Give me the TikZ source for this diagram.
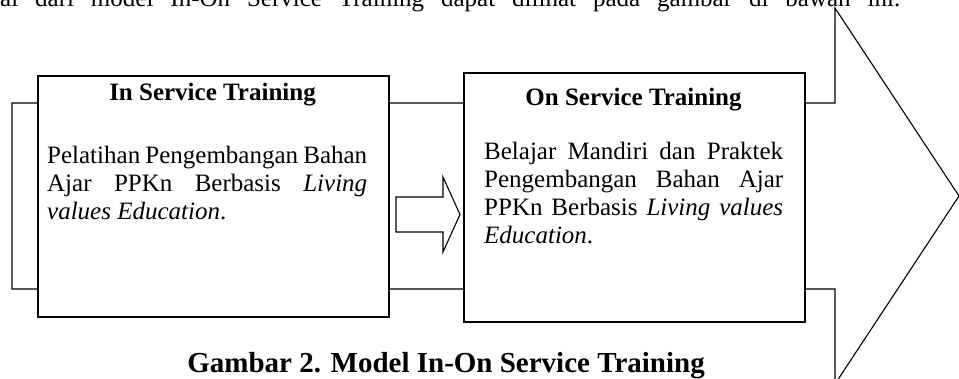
\documentclass[tikz,border=0pt]{standalone}
\usepackage{fontspec}
\setmainfont{Liberation Serif}
\usetikzlibrary{positioning}

\begin{document}
\begin{tikzpicture}[
  x=1bp, y=-1bp,
  box/.style={draw, line width=1.6bp, fill=white, inner sep=0pt, anchor=north west},
  boxtitle/.style={font=\fontsize{25bp}{28bp}\selectfont\bfseries, anchor=base, inner sep=0pt},
  boxbody/.style={font=\fontsize{25bp}{28bp}\selectfont, align=justify, anchor=north west, inner sep=0pt},
  blockarrow/.style={draw, line width=1.1bp, fill=white, line join=miter},
]

\useasboundingbox (0,0) rectangle (959,378);

% --- lead-in line (justified, cut off at the top) ---
\node[font=\fontsize{25bp}{28bp}\selectfont, anchor=base west, inner sep=0pt] (lead) at (0,6.5)
  {\makebox[900bp][s]{al dari model In-On Service Training dapat dilihat pada gambar di bawah ini.}};

% --- big arrow behind both boxes ---
\draw[blockarrow] (12,103) -- (835,103) -- (835,8) -- (959,196) -- (835,384)
  -- (835,289) -- (12,289) -- cycle;

% --- In Service ---
\node[box, minimum width=351bp, minimum height=241bp] (inbox) at (37,75) {};
\node[boxtitle] (intitle) at (212.5,100) {In Service Training};
\node[boxbody, text width=320bp] (inbody) at (47,146)
  {Pelatihan Pengembangan Bahan\linebreak
   Ajar PPKn Berbasis \textit{Living}\linebreak
   \textit{values Education}.};

% --- small arrow between the boxes ---
\draw[blockarrow] (396,197) -- (443,197) -- (443,177) -- (460,214.5) -- (443,252)
  -- (443,232) -- (396,232) -- cycle;

% --- On Service ---
\node[box, minimum width=341bp, minimum height=249bp] (onbox) at (463,72) {};
\node[boxtitle] (ontitle) at (633.5,105) {On Service Training};
\node[boxbody, text width=299bp] (onbody) at (484,142)
  {Belajar Mandiri dan Praktek\linebreak
   Pengembangan Bahan Ajar\linebreak
   PPKn Berbasis \textit{Living values}\linebreak
   \textit{Education}.};

% --- caption ---
\node[font=\fontsize{29bp}{32bp}\selectfont\bfseries, anchor=base, inner sep=0pt] (caption)
  at (446,372) {Gambar 2. Model In-On Service Training};

\end{tikzpicture}
\end{document}
